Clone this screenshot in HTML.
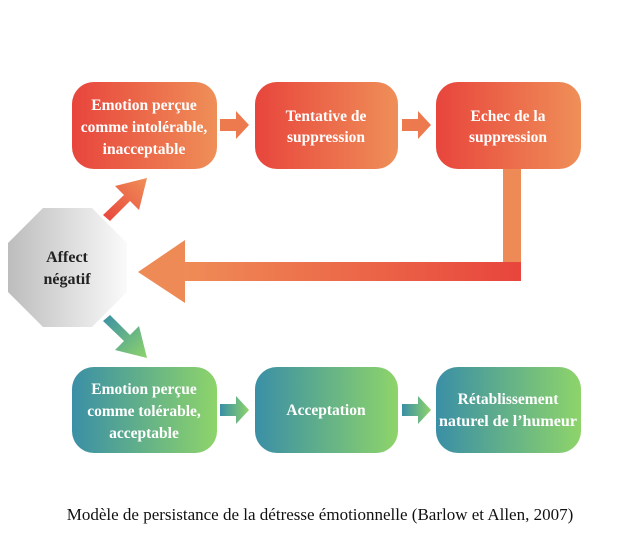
<!DOCTYPE html>
<html><head><meta charset="utf-8"><style>
html,body{margin:0;padding:0;background:#fff;}
svg{display:block;}
text{font-family:"Liberation Serif",serif;}
</style></head><body>
<svg width="640" height="560" viewBox="0 0 640 560" xmlns="http://www.w3.org/2000/svg">
<defs>
<linearGradient id="r" x1="0" y1="0" x2="1" y2="0"><stop offset="0" stop-color="#e8453c"/><stop offset="1" stop-color="#ef8f58"/></linearGradient>
<linearGradient id="g" x1="0" y1="0" x2="1" y2="0"><stop offset="0" stop-color="#3a8fa6"/><stop offset="1" stop-color="#8ed46a"/></linearGradient>
<linearGradient id="hb" x1="0" y1="0" x2="1" y2="0"><stop offset="0" stop-color="#ef8c56"/><stop offset="1" stop-color="#e8453c"/></linearGradient>
<linearGradient id="oc" x1="0" y1="0" x2="1" y2="0"><stop offset="0" stop-color="#bdbdbd"/><stop offset="1" stop-color="#fafafa"/></linearGradient>
<linearGradient id="au" x1="0" y1="1" x2="1" y2="0"><stop offset="0" stop-color="#e8453c"/><stop offset="1" stop-color="#ef8f58"/></linearGradient>
<linearGradient id="ad" x1="0" y1="0" x2="1" y2="1"><stop offset="0" stop-color="#3a8fa6"/><stop offset="1" stop-color="#8ed46a"/></linearGradient>
</defs>
<rect x="72" y="82" width="145" height="87" rx="22" fill="url(#r)"/>
<rect x="255" y="82" width="143" height="87" rx="22" fill="url(#r)"/>
<rect x="436" y="82" width="145" height="87" rx="22" fill="url(#r)"/>
<polygon points="220,119 236,119 236,111 249,125 236,139 236,131 220,131" fill="#ec7a4e"/>
<polygon points="402,119 418,119 418,111 431,125 418,139 418,131 402,131" fill="#ec7a4e"/>
<rect x="503" y="169" width="18" height="95" fill="#ee8a56"/>
<rect x="183" y="262" width="338" height="19" fill="url(#hb)"/>
<polygon points="138,272 185,240 185,303" fill="#ee8a56"/>
<polygon points="43,208 92,208 127,243 127,292 92,327 43,327 8,292 8,243" fill="url(#oc)"/>
<text x="67" y="262" font-size="16" font-weight="bold" text-anchor="middle" fill="#222">Affect</text>
<text x="67" y="284" font-size="16" font-weight="bold" text-anchor="middle" fill="#222">négatif</text>
<polygon points="103,215 124,195 115,186 147,178 139,210 130,201 110,221" fill="url(#au)"/>
<polygon points="103,321 124,341 115,350 147,358 139,326 130,335 110,315" fill="url(#ad)"/>
<rect x="72" y="367" width="145" height="86" rx="22" fill="url(#g)"/>
<rect x="255" y="367" width="143" height="86" rx="22" fill="url(#g)"/>
<rect x="436" y="367" width="145" height="86" rx="22" fill="url(#g)"/>
<polygon points="220,404 236,404 236,396 249,410 236,424 236,416 220,416" fill="url(#g)"/>
<polygon points="402,404 418,404 418,396 431,410 418,424 418,416 402,416" fill="url(#g)"/>
<g fill="#fff" font-size="15.5" font-weight="bold" text-anchor="middle">
<text x="144" y="110">Emotion perçue</text>
<text x="144" y="132">comme intolérable,</text>
<text x="144" y="154">inacceptable</text>
<text x="326" y="121">Tentative de</text>
<text x="326" y="142">suppression</text>
<text x="508" y="121">Echec de la</text>
<text x="508" y="142">suppression</text>
<text x="144" y="394">Emotion perçue</text>
<text x="144" y="416">comme tolérable,</text>
<text x="144" y="438">acceptable</text>
<text x="326" y="415">Acceptation</text>
<text x="508" y="404">Rétablissement</text>
<text x="508" y="426" textLength="138" lengthAdjust="spacingAndGlyphs">naturel de l’humeur</text>
</g>
<text x="320" y="520" font-size="17" text-anchor="middle" fill="#111">Modèle de persistance de la détresse émotionnelle (Barlow et Allen, 2007)</text>
</svg>
</body></html>
